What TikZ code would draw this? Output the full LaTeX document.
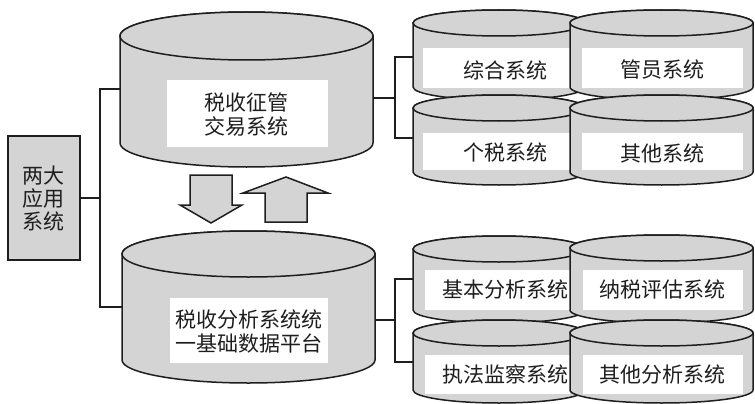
\documentclass[tikz,border=0pt]{standalone}
\usepackage{fontspec}
\newfontfamily\cjk{Noto Sans CJK SC}
\definecolor{cylgray}{RGB}{212,212,212}
\definecolor{ink}{RGB}{30,30,30}
\tikzset{
  cyl/.style={fill=cylgray, draw=ink, line width=1.5pt},
  wbox/.style={fill=white},
  txt/.style={font=\cjk\fontsize{21}{24}\selectfont, text=ink, inner sep=0pt, align=center},
  link/.style={draw=ink, line width=1.5pt},
  bigarrow/.style={fill=cylgray, draw=ink, line width=1.5pt, line join=miter},
}
\newcommand\drawcyl[5]{%
  \pgfmathsetmacro\cylcx{(#1+#2)/2}%
  \pgfmathsetmacro\cylrx{(#2-#1)/2}%
  \filldraw[cyl] (#1,#3) -- (#1,#4) arc[start angle=180,end angle=360,x radius=\cylrx pt,y radius=#5pt] -- (#2,#3) arc[start angle=0,end angle=180,x radius=\cylrx pt,y radius=#5pt] -- cycle;
  \filldraw[cyl] (\cylcx,#3) ellipse[x radius=\cylrx pt,y radius=#5pt];
}
\begin{document}
\begin{tikzpicture}[x=1pt,y=-1pt]
\useasboundingbox (0,0) rectangle (755,404);

% connectors (drawn first, shapes cover their ends)
\coordinate (tl) at (121,89);
\coordinate (bl) at (123,307);
\coordinate (jl) at (100,198);
\coordinate (tr) at (372,98);
\coordinate (jr) at (395,98);
\coordinate (a1) at (414,57);
\coordinate (a2) at (414,138);
\coordinate (br) at (374,320);
\coordinate (jr2) at (395,320);
\coordinate (b1) at (414,279);
\coordinate (b2) at (414,362);

\node[txt, draw=ink, fill=cylgray, line width=1.5pt, minimum width=72pt, minimum height=124pt, font=\cjk\fontsize{21}{23}\selectfont] (lb) at (44,198) {两大\\应用\\系统};
\draw[link] (lb.east) -- (jl);
\draw[link] (tl) -| (jl) |- (bl);
\draw[link] (tr) -- (jr);
\draw[link] (a1) -| (jr) |- (a2);
\draw[link] (br) -- (jr2);
\draw[link] (b1) -| (jr2) |- (b2);

% big cylinders
\drawcyl{120}{373}{36}{143}{24}
\fill[wbox] (167,80) rectangle (328,147);
\node[txt] (c1) at (246,115) {税收征管\\交易系统};

\drawcyl{122}{375}{254}{360}{23}
\fill[wbox] (170,298) rectangle (328,363);
\node[txt] (c2) at (248.5,331.5) {税收分析系统统\\一基础数据平台};

% arrows
\draw[bigarrow] (190,175) -- (232,175) -- (232,205) -- (242,205) -- (211,223) -- (180,205) -- (190,205) -- cycle;
\draw[bigarrow] (265,222) -- (307,222) -- (307,193) -- (328,193) -- (286,177) -- (243,193) -- (265,193) -- cycle;

% top small cylinders
\drawcyl{413}{585}{23}{87}{13}
\fill[wbox] (423,48) rectangle (570,88);
\node[txt] (s1) at (505,70) {综合系统};
\drawcyl{570}{753}{23}{87}{13}
\fill[wbox] (582,48) rectangle (743,88);
\node[txt] (s2) at (662,70) {管员系统};
\drawcyl{413}{585}{108}{172}{13}
\fill[wbox] (423,133) rectangle (570,170);
\node[txt] (s3) at (505,153) {个税系统};
\drawcyl{570}{753}{108}{172}{13}
\fill[wbox] (582,133) rectangle (743,170);
\node[txt] (s4) at (662,153) {其他系统};

% bottom small cylinders
\drawcyl{413}{585}{249}{310}{13}
\fill[wbox] (425,270) rectangle (570,310);
\node[txt] (s5) at (505,290) {基本分析系统};
\drawcyl{570}{753}{248}{310}{13}
\fill[wbox] (583,270) rectangle (743,310);
\node[txt] (s6) at (662,290) {纳税评估系统};
\drawcyl{413}{585}{333}{390}{13}
\fill[wbox] (425,355) rectangle (570,394);
\node[txt] (s7) at (505,375) {执法监察系统};
\drawcyl{570}{753}{333}{390}{13}
\fill[wbox] (583,355) rectangle (743,394);
\node[txt] (s8) at (662,375) {其他分析系统};
\end{tikzpicture}
\end{document}
